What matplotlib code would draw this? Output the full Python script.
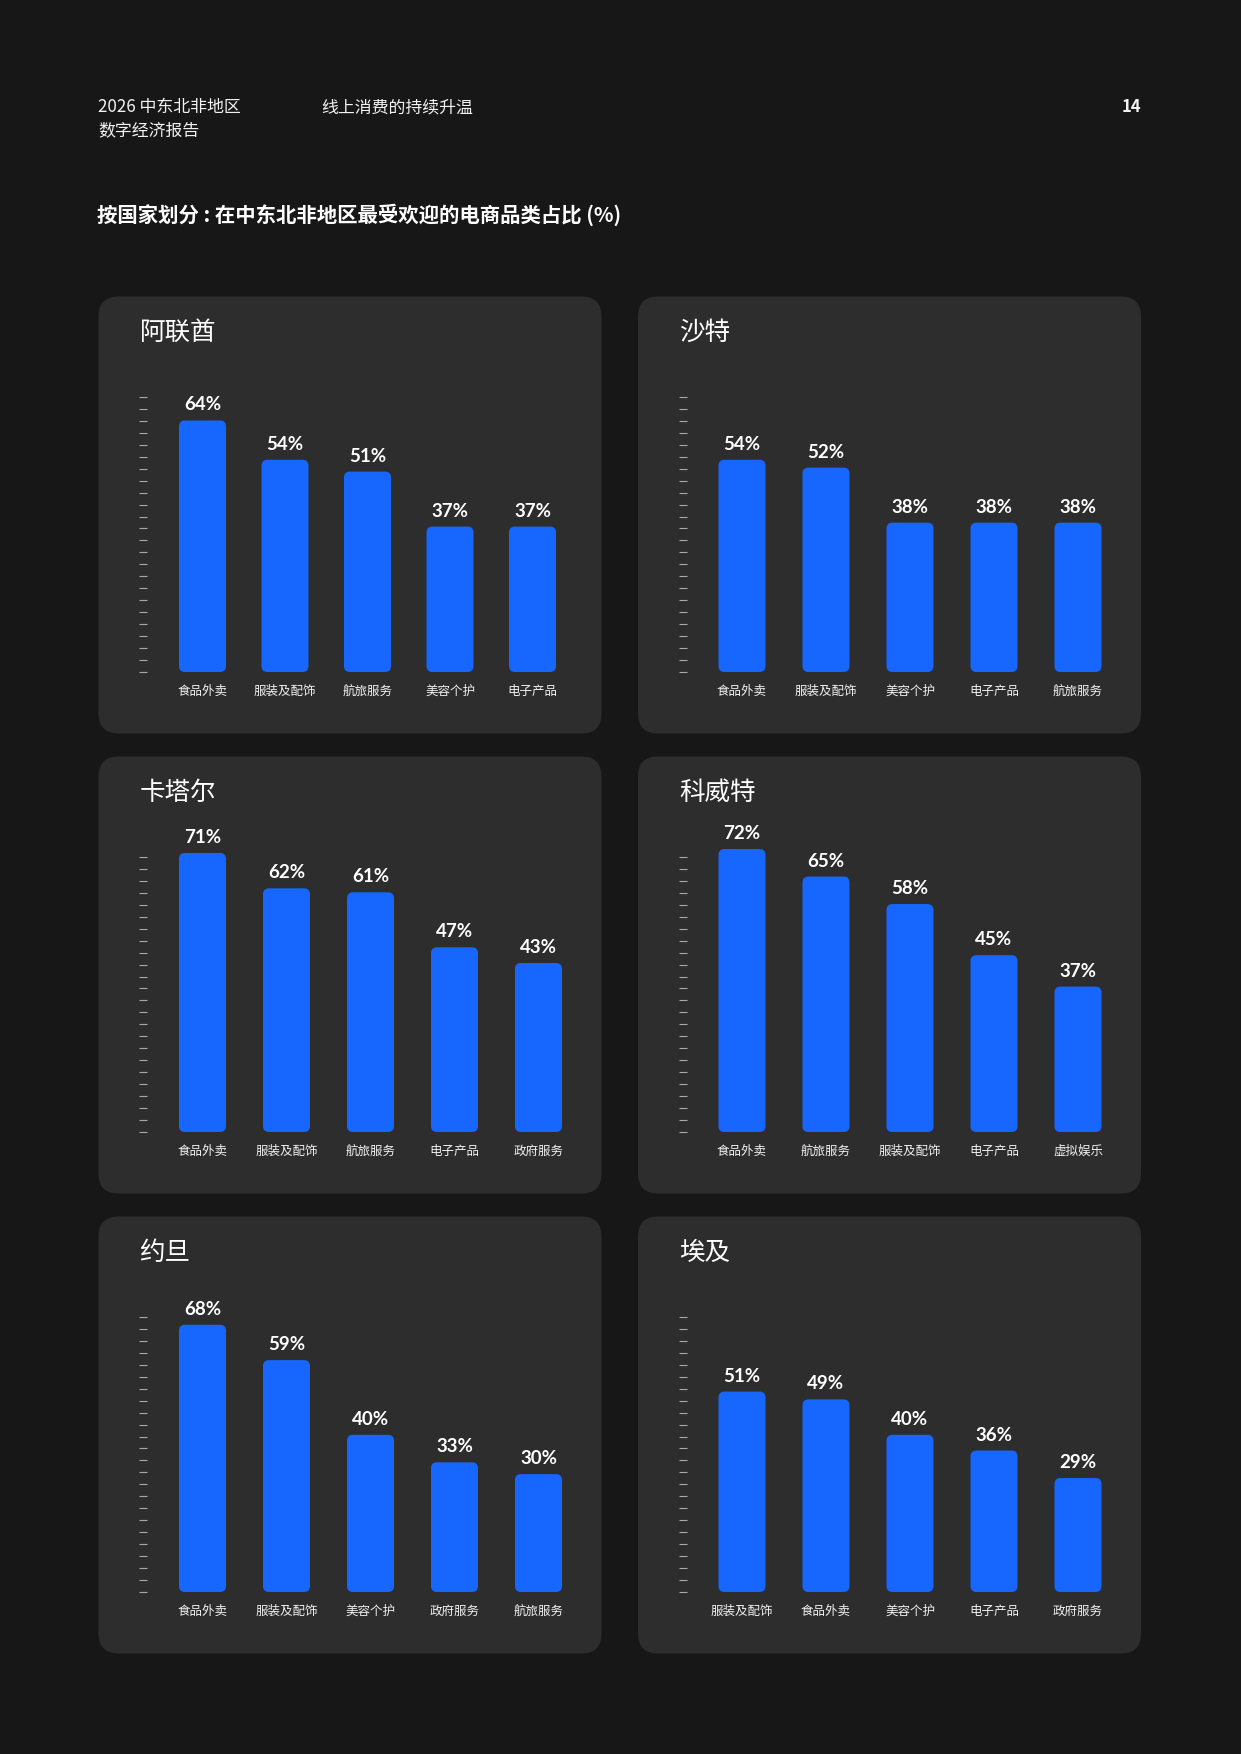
import matplotlib
matplotlib.use("Agg")
import matplotlib.pyplot as plt
from matplotlib.patches import FancyBboxPatch
import numpy as np

plt.rcParams['font.family'] = ['Noto Sans CJK SC', 'DejaVu Sans']

# ---- data ----
countries = ["阿联酋", "沙特", "卡塔尔", "科威特", "约旦", "埃及"]

uae_cats = ["食品外卖", "服装及配饰", "航旅服务", "美容个护", "电子产品"]
uae_vals = [64, 54, 51, 37, 37]
ksa_cats = ["食品外卖", "服装及配饰", "美容个护", "电子产品", "航旅服务"]
ksa_vals = [54, 52, 38, 38, 38]
qat_cats = ["食品外卖", "服装及配饰", "航旅服务", "电子产品", "政府服务"]
qat_vals = [71, 62, 61, 47, 43]
kwt_cats = ["食品外卖", "航旅服务", "服装及配饰", "电子产品", "虚拟娱乐"]
kwt_vals = [72, 65, 58, 45, 37]
jor_cats = ["食品外卖", "服装及配饰", "美容个护", "政府服务", "航旅服务"]
jor_vals = [68, 59, 40, 33, 30]
egy_cats = ["服装及配饰", "食品外卖", "美容个护", "电子产品", "政府服务"]
egy_vals = [51, 49, 40, 36, 29]

all_cats = [uae_cats, ksa_cats, qat_cats, kwt_cats, jor_cats, egy_cats]
all_vals = [uae_vals, ksa_vals, qat_vals, kwt_vals, jor_vals, egy_vals]

# ---- style / layout (pixels) ----
W, H = 1241, 1754
BG = "#171717"
PANEL = "#2d2d2d"
BLUE = "#1767ff"
TXT = "#f2f2f2"
TICK = "#a8a8a8"

panel_x = [98.5, 638]
panel_y = [296.5, 756.5, 1216.5]
pw, ph = 503, 437
px_per_pct = 3.93
bar_w_px = 47
spacing = [82.5, 84, 84, 84, 84, 84]

fig = plt.figure(figsize=(W / 100, H / 100), dpi=100)
fig.patch.set_facecolor(BG)

page = fig.add_axes([0, 0, 1, 1])
page.set_xlim(0, W)
page.set_ylim(H, 0)
page.axis("off")

# header
page.text(98.5, 107, "2026 中东北非地区", fontsize=12.2, color=TXT, va="center")
page.text(98.5, 130, "数字经济报告", fontsize=12.2, color=TXT, va="center")
page.text(321, 107, "线上消费的持续升温", fontsize=12.2, color=TXT, va="center")
page.text(1141, 107, "14", fontsize=12, color=TXT, va="center", ha="right",
          fontweight="bold")
page.text(97, 215, "按国家划分 : 在中东北非地区最受欢迎的电商品类占比 (%)",
          fontsize=14.7, color="white", va="center", fontweight="bold")

for k in range(6):
    col, row = k % 2, k // 2
    x0, y0 = panel_x[col], panel_y[row]
    page.add_patch(FancyBboxPatch((x0, y0), pw, ph,
                                  boxstyle="round,pad=0,rounding_size=20",
                                  fc=PANEL, ec="none"))
    page.text(x0 + 41, y0 + 36, countries[k], fontsize=18.4, color="white",
              va="center")

    s = spacing[k]
    left = x0 + 104 - 0.5 * s
    bottom = y0 + 375.5
    ymax = 80
    hgt = ymax * px_per_pct
    ax = fig.add_axes([left / W, 1 - bottom / H, 5 * s / W, hgt / H])
    ax.set_facecolor("none")
    ax.set_xlim(-0.5, 4.5)
    ax.set_ylim(0, ymax)

    vals = all_vals[k]
    bars = ax.bar(range(5), vals, width=bar_w_px / s, color=BLUE)
    aspect = s / px_per_pct
    r = 6 / s
    for b in bars:
        bx, by = b.get_xy()
        ax.add_patch(FancyBboxPatch((bx, by), b.get_width(), b.get_height(),
                                    boxstyle=f"round,pad=0,rounding_size={r}",
                                    mutation_aspect=aspect, fc=BLUE, ec="none"))
        b.remove()

    for i, v in enumerate(vals):
        ax.annotate(f"{v}%", (i, v), xytext=(0, 10), textcoords="offset pixels",
                    ha="center", va="baseline", fontsize=13.5, color="white",
                    fontweight="bold", family=["Lato", "DejaVu Sans"])

    for side in ["top", "right", "bottom", "left"]:
        ax.spines[side].set_visible(False)
    out_px = (left - x0) - 48.5
    ax.spines["left"].set_position(("outward", out_px * 0.72))
    ax.set_yticks(np.linspace(0, 70, 24))
    ax.set_yticklabels([])
    ax.tick_params(axis="y", direction="out", length=8 * 0.72, width=0.8,
                   color=TICK)
    ax.set_xticks(range(5))
    ax.set_xticklabels(all_cats[k], fontsize=9, color=TXT)
    ax.tick_params(axis="x", length=0, pad=13 * 0.72)

fig.savefig("out.png", dpi=100, facecolor=BG)
